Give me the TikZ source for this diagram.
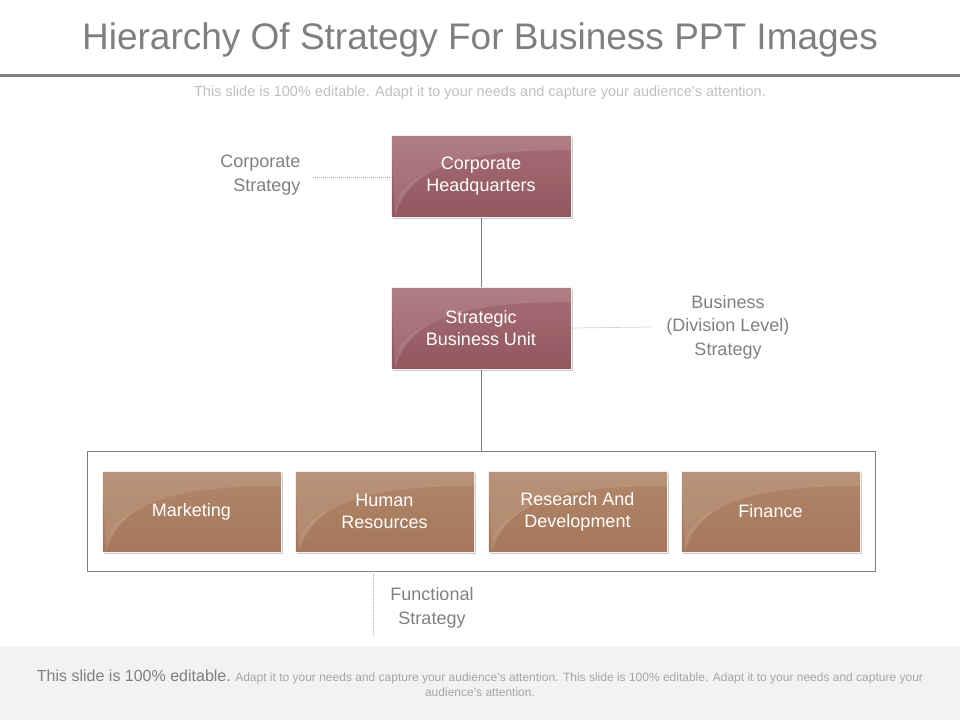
\documentclass[tikz,border=0pt]{standalone}
\usepackage{fontspec}
\setmainfont{Liberation Sans}
\usetikzlibrary{shadows,calc,fadings}
\definecolor{titlegray}{HTML}{7F7F7F}
\definecolor{subgray}{HTML}{BFBFBF}
\definecolor{footsmall}{HTML}{A6A6A6}
\definecolor{labelgray}{HTML}{808080}
\definecolor{footbg}{HTML}{F2F2F2}
\definecolor{mauveT}{HTML}{A56E74}
\definecolor{mauveB}{HTML}{93575E}
\definecolor{tanT}{HTML}{B18669}
\definecolor{tanB}{HTML}{A6785B}
\definecolor{dashgray}{HTML}{A6A6A6}
\definecolor{linegray}{HTML}{7F7F7F}
\tikzfading[name=glowfade, left color=transparent!100, right color=transparent!30]
\tikzset{
  gloss/.style={path picture={
    \fill[white,opacity=0.11] (path picture bounding box.north west) -- (path picture bounding box.north east)
      -- ([yshift=-15pt]path picture bounding box.north east)
      .. controls ([xshift=-110pt,yshift=-15pt]path picture bounding box.north east)
      and ([xshift=18pt,yshift=-32pt]path picture bounding box.north west)
      .. ([xshift=4pt]path picture bounding box.south west) -- cycle;
    \fill[white,opacity=0.35,path fading=glowfade] ([xshift=4pt]path picture bounding box.south west)
      .. controls ([xshift=8pt,yshift=-60pt]path picture bounding box.north west)
      and ([xshift=22pt,yshift=-44pt]path picture bounding box.north west)
      .. ([xshift=40pt,yshift=-37pt]path picture bounding box.north west)
      .. controls ([xshift=18pt,yshift=-46pt]path picture bounding box.north west)
      and ([xshift=4pt,yshift=-62pt]path picture bounding box.north west)
      .. ([yshift=-72pt]path picture bounding box.north west) -- cycle;
  }},
  boxbase/.style={rectangle, draw=white!88!gray, line width=1pt, text=white,
    font=\fontsize{18}{22}\selectfont, align=center,
    drop shadow={shadow xshift=2pt, shadow yshift=-2pt, opacity=0.4, fill=gray},
    gloss},
  topbox/.style={boxbase, minimum width=180pt, minimum height=82pt, top color=mauveT, bottom color=mauveB},
  funcbox/.style={boxbase, minimum width=179pt, minimum height=81pt, top color=tanT, bottom color=tanB},
  lbl/.style={text=labelgray, font=\fontsize{18}{23.5}\selectfont, align=center},
  dotline/.style={draw=dashgray, line width=0.7pt, dash pattern=on 1pt off 1pt},
  conn/.style={draw=linegray, line width=0.9pt}
}
\begin{document}
\begin{tikzpicture}[x=1pt,y=-1pt]
\useasboundingbox (0,0) rectangle (960,720);
% title
\node[text=titlegray, font=\fontsize{37}{40}\selectfont] (title) at (480,40) {Hierarchy Of Strategy For Business PPT Images};
\draw[linegray, line width=3pt] (0,75) -- (960,75);
\node[text=subgray, font=\fontsize{14.5}{16}\selectfont] (sub) at (480,93) {This slide is 100\% editable. Adapt it to your needs and capture your audience's attention.};
% footer
\fill[footbg] (0,646) rectangle (960,720);
\node[align=center, text=footsmall, font=\fontsize{12}{15}\selectfont] (foot) at (480,683)
 {{\fontsize{16}{15}\selectfont\color{titlegray}This slide is 100\% editable.} Adapt it to your needs and capture your audience's attention. This slide is 100\% editable. Adapt it to your needs and capture your\\ audience's attention.};
% boxes
\node[topbox] (chq) at (481,176) {Corporate\\Headquarters};
\node[topbox] (sbu) at (481,328) {Strategic\\Business Unit};
\node[draw=linegray, line width=0.9pt, minimum width=788pt, minimum height=120pt] (cont) at (481,511) {};
\node[funcbox] (mkt) at (191.5,511.5) {Marketing};
\node[funcbox] (hr) at (384.5,511.5) {Human\\Resources};
\node[funcbox] (rnd) at (577.5,511.5) {Research And\\Development};
\node[funcbox] (fin) at (770.5,511.5) {Finance};
% connectors
\draw[conn] (chq.south) -- (sbu.north);
\draw[conn] (sbu.south) -- (cont.north);
% labels
\node[lbl, align=right, anchor=east] (cs) at (304,175) {Corporate\\Strategy};
\coordinate (csend) at (313,177);
\draw[dotline] (csend) -- (csend -| chq.west);
\node[lbl] (bs) at (728,327) {Business\\(Division Level)\\Strategy};
\coordinate (bsend) at (652,327);
\draw[dotline] (sbu.east) -- (bsend);
\node[lbl] (fs) at (432,608) {Functional\\Strategy};
\coordinate (fsend) at (373,637);
\draw[dotline] (fsend |- cont.south) -- (fsend);
\end{tikzpicture}
\end{document}
